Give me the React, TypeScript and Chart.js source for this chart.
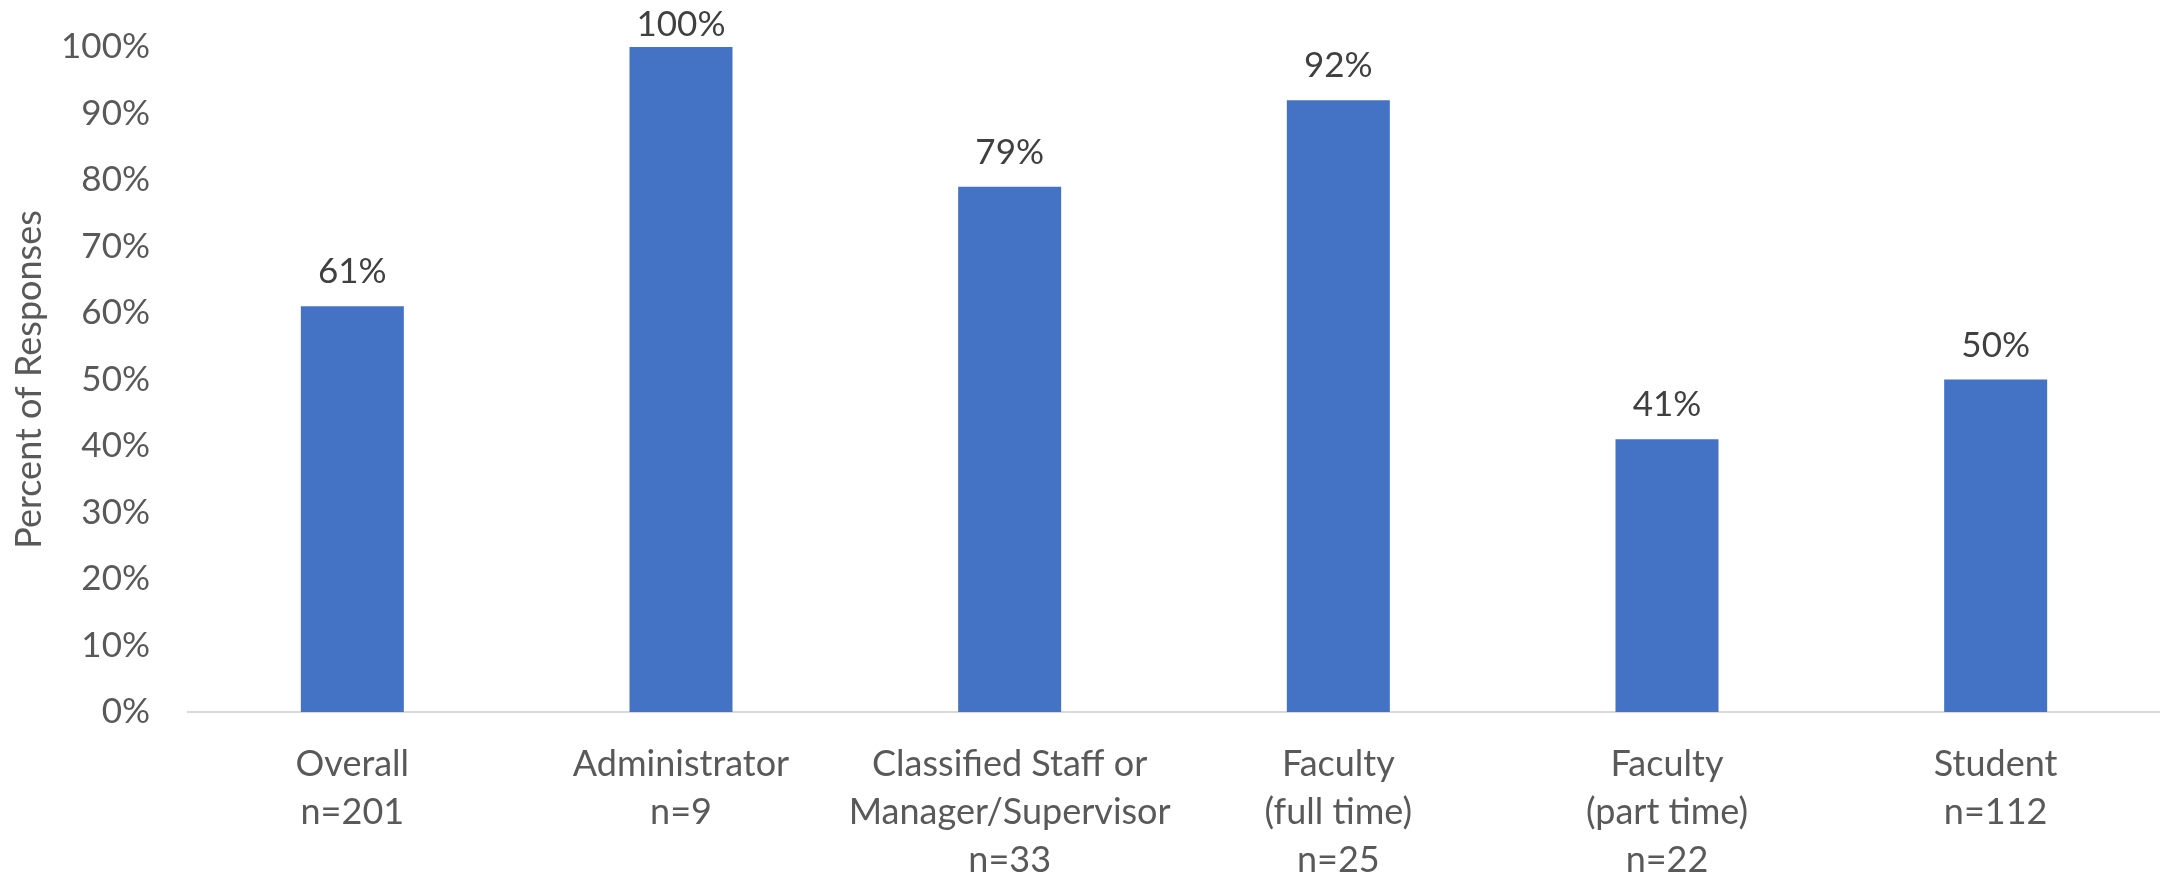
import React, { useEffect, useRef } from "react";
import { Chart, registerables } from "chart.js";

Chart.register(...registerables);

const categories: string[][] = [
  ["Overall", "n=201"],
  ["Administrator", "n=9"],
  ["Classified Staff or", "Manager/Supervisor", "n=33"],
  ["Faculty", "(full time)", "n=25"],
  ["Faculty", "(part time)", "n=22"],
  ["Student", "n=112"],
];
const percentValues: number[] = [61, 100, 79, 92, 41, 50];
const yMin = 0;
const yMax = 100;
const yStep = 10;
const yAxisTitle = "Percent of Responses";

const FONT = "Lato, 'Open Sans', sans-serif";

const dataLabelPlugin = {
  id: "barValueLabels",
  afterDatasetsDraw(chart: any) {
    const { ctx, chartArea } = chart;
    const meta = chart.getDatasetMeta(0);
    ctx.save();
    ctx.font = `35px ${FONT}`;
    ctx.fillStyle = "#404040";
    ctx.textAlign = "center";
    ctx.textBaseline = "alphabetic";
    meta.data.forEach((bar: any, i: number) => {
      const v = chart.data.datasets[0].data[i];
      const y = Math.max(bar.y - 23, chartArea.top - 11);
      ctx.fillText(`${v}%`, bar.x, y);
    });
    ctx.restore();
  },
};

export default function App() {
  const canvasRef = useRef<HTMLCanvasElement | null>(null);

  useEffect(() => {
    if (!canvasRef.current) return;
    const chart = new Chart(canvasRef.current, {
      type: "bar",
      data: {
        labels: categories,
        datasets: [
          {
            data: percentValues,
            backgroundColor: "#4472C4",
            borderWidth: 0,
            categoryPercentage: 1,
            barPercentage: 0.3134,
          },
        ],
      },
      options: {
        animation: false,
        responsive: true,
        maintainAspectRatio: false,
        layout: { padding: { top: 47, right: 0, left: 0, bottom: 0 } },
        plugins: {
          legend: { display: false },
          tooltip: { enabled: false },
        },
        scales: {
          x: {
            grid: { display: false, drawTicks: false },
            border: { display: true, color: "#D9D9D9", width: 2 },
            ticks: {
              color: "#595959",
              font: { family: FONT, size: 36, lineHeight: 1.3334 },
              padding: 28,
              maxRotation: 0,
              autoSkip: false,
            },
            afterFit(scale: any) {
              scale.height = 167;
            },
          },
          y: {
            min: yMin,
            max: yMax,
            grid: { display: false, drawTicks: true, tickLength: 38 },
            border: { display: false },
            ticks: {
              stepSize: yStep,
              color: "#595959",
              font: { family: FONT, size: 35 },
              padding: 0,
              callback: (v: any) => `${v}%`,
            },
            title: {
              display: true,
              text: yAxisTitle,
              color: "#595959",
              font: { family: FONT, size: 36, lineHeight: 1.2 },
              padding: { top: 8, bottom: 0 },
            },
            afterFit(scale: any) {
              scale.width = 188;
            },
          },
        },
      },
      plugins: [dataLabelPlugin],
    });
    return () => chart.destroy();
  }, []);

  return (
    <div
      style={{
        position: "fixed",
        left: 0,
        top: 0,
        width: 2160,
        height: 879,
        background: "#ffffff",
      }}
    >
      <canvas ref={canvasRef} />
    </div>
  );
}
